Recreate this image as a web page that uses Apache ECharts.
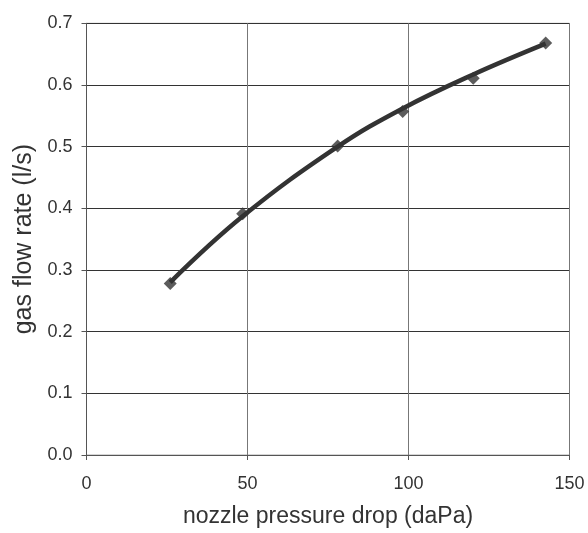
<!DOCTYPE html>
<html>
<head>
<meta charset="utf-8">
<script src="https://cdn.jsdelivr.net/npm/echarts@6/dist/echarts.min.js"></script>
<style>
  html, body { margin: 0; padding: 0; background: #fff; }
  #chart { width: 588px; height: 533px; }
</style>
</head>
<body>
<div id="chart"></div>
<script>
    // measured points
    var pressureDrop = [26, 48.5, 78, 98.2, 120.1, 142.6];
    var flowRate = [0.278, 0.391, 0.501, 0.557, 0.611, 0.668];

    // trend curve at the same x positions
    var trendFlow = [0.280, 0.387, 0.500, 0.562, 0.617, 0.667];

    var xTicks = [0, 50, 100, 150];
    var yTicks = [0.0, 0.1, 0.2, 0.3, 0.4, 0.5, 0.6, 0.7];

    var textColor = '#333';
    var fontName = '"Liberation Sans", Arial, sans-serif';

    function pairs(xs, ys) {
        return xs.map(function (x, i) { return [x, ys[i]]; });
    }

    var option = {
        animation: false,
        grid: {
            left: 86.5,
            right: 18.5,
            top: 23.3,
            bottom: 78,
            show: true,
            borderColor: '#aaa',
            borderWidth: 1
        },
        xAxis: {
            type: 'value',
            min: xTicks[0],
            max: xTicks[xTicks.length - 1],
            interval: 50,
            name: 'nozzle pressure drop (daPa)',
            nameLocation: 'middle',
            nameGap: 50,
            nameTextStyle: { color: textColor, fontSize: 23, fontFamily: fontName },
            axisLine: { show: true, lineStyle: { color: '#555', width: 1 } },
            axisTick: { show: true, length: 5, lineStyle: { color: '#555' } },
            axisLabel: { color: textColor, fontSize: 18, fontFamily: fontName, margin: 20 },
            splitLine: { show: true, lineStyle: { color: '#777', width: 1 } }
        },
        yAxis: {
            type: 'value',
            min: yTicks[0],
            max: yTicks[yTicks.length - 1],
            interval: 0.1,
            name: 'gas flow rate (l/s)',
            nameLocation: 'middle',
            nameGap: 50,
            nameTextStyle: { color: textColor, fontSize: 25, fontFamily: fontName },
            axisLine: { show: true, lineStyle: { color: '#555', width: 1 } },
            axisTick: { show: true, length: 5, lineStyle: { color: '#555' } },
            axisLabel: {
                color: textColor, fontSize: 18, fontFamily: fontName, margin: 14,
                formatter: function (v) { return v.toFixed(1); }
            },
            splitLine: { show: true, lineStyle: { color: '#333', width: 1 } }
        },
        series: [
            {
                name: 'points',
                type: 'scatter',
                symbol: 'diamond',
                symbolSize: 13,
                itemStyle: { color: '#333' },
                data: pairs(pressureDrop, flowRate),
                z: 2
            },
            {
                name: 'trend',
                type: 'line',
                smooth: 0.4,
                showSymbol: false,
                lineStyle: { color: '#333', width: 4.5 },
                data: pairs(pressureDrop, trendFlow),
                z: 3
            }
        ]
    };

    var chart = echarts.init(document.getElementById('chart'), null, { renderer: 'canvas' });
    chart.setOption(option);
</script>
</body>
</html>
